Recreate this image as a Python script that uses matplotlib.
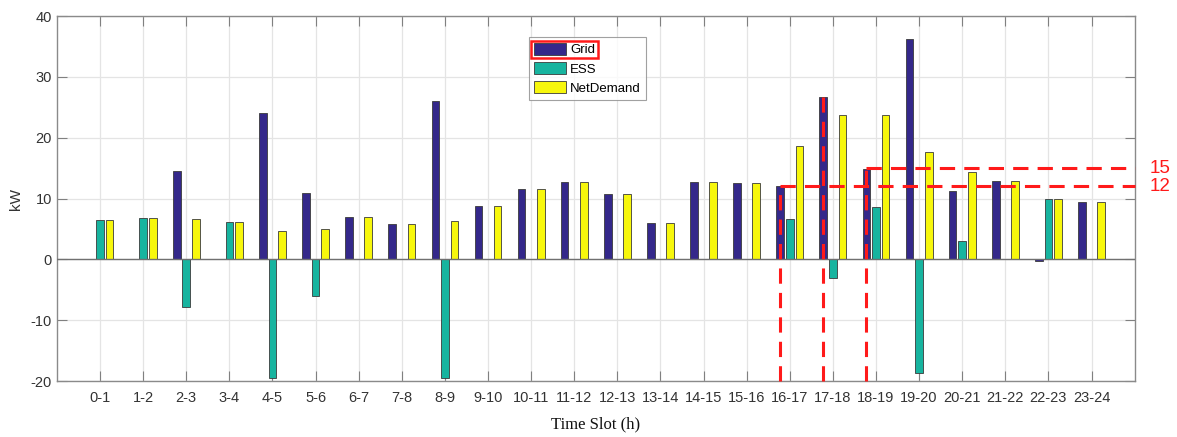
import matplotlib.pyplot as plt
import numpy as np
from matplotlib.patches import Rectangle

# hourly power balance (kW)
slots = ['%d-%d' % (h, h + 1) for h in range(24)]
grid = [0, 0, 14.5, 0, 24.1, 11.0, 6.9, 5.9, 26.0, 8.8, 11.5, 12.7,
        10.7, 6.0, 12.8, 12.5, 12.1, 26.7, 14.9, 36.3, 11.3, 12.9, -0.2, 9.5]
ess = [6.5, 6.8, -7.9, 6.2, -19.5, -6.0, 0, 0, -19.5, 0, 0, 0,
       0, 0, 0, 0, 6.6, -3.0, 8.7, -18.7, 3.0, 0, 10.0, 0]
net_demand = [6.5, 6.8, 6.6, 6.2, 4.6, 5.0, 6.9, 5.9, 6.4, 8.8, 11.5, 12.7,
              10.7, 6.0, 12.8, 12.5, 18.6, 23.7, 23.8, 17.6, 14.4, 12.9, 9.9, 9.5]

# marked grid levels and the slots they start from
levels = [12, 15]
level_slots = [16, 18]
peak_slot = 17

def main():
    plt.rcParams['font.family'] = ['Liberation Sans', 'DejaVu Sans']
    plt.rcParams['axes.unicode_minus'] = False
    fig = plt.figure(figsize=(11.77, 4.37), dpi=100)
    ax = fig.add_axes([0.0484, 0.128, 0.9156, 0.835])

    x = np.arange(1, len(slots) + 1)
    step = 2.0 / 9.0
    width = step * 0.8
    colors = ['#34288a', '#17b49f', '#f7f70c']
    series = [('Grid', grid), ('ESS', ess), ('NetDemand', net_demand)]
    for i, (name, vals) in enumerate(series):
        ax.bar(x + (i - 1) * step, vals, width, color=colors[i],
               edgecolor='#3a3a3a', linewidth=0.6, label=name, zorder=3)

    ax.axhline(0, color='#707070', lw=1.0, zorder=4)

    ax.set_xlim(0, 25)
    ax.set_ylim(-20, 40)
    ax.set_xticks(x)
    ax.set_xticklabels(slots)
    ax.set_yticks(np.arange(-20, 41, 10))
    ax.grid(True, color='#e4e4e4', lw=0.9, zorder=0)
    ax.tick_params(direction='in', length=7, width=0.8, color='#808080',
                   labelcolor='#333333', labelsize=10.5, top=True, right=True)
    ax.tick_params(axis='x', pad=7)
    for s in ax.spines.values():
        s.set_color('#8a8a8a')
        s.set_linewidth(1.0)
    ax.set_ylabel('kW', fontsize=11, color='#333333', labelpad=6)
    ax.set_xlabel('Time Slot (h)', fontsize=12, family='Liberation Serif',
                  color='#111111', labelpad=8)

    # dashed guide lines
    red = dict(color='#ff1a1a', lw=2.2, ls=(0, (5, 3)), zorder=5, clip_on=False)
    xs = [s + 1 - step for s in level_slots]
    for xv, lv in zip(xs, levels):
        ax.plot([xv, 25], [lv, lv], **red)
        ax.plot([xv, xv], [-20, lv], **red)
        ax.text(25.35, lv, str(lv), color='#ff1a1a', fontsize=13.5,
                va='center', ha='left')
    xp = peak_slot + 1 - step
    ax.plot([xp, xp], [-20, grid[peak_slot]], **red)

    leg = ax.legend(loc='upper left', bbox_to_anchor=(0.438, 0.942),
                    fontsize=9.5, frameon=True, fancybox=False,
                    edgecolor='#8a8a8a', handlelength=2.4, handleheight=1.1,
                    handletextpad=0.3, labelspacing=0.4, borderpad=0.4,
                    borderaxespad=0)
    leg.get_frame().set_linewidth(0.8)

    # box around the Grid legend entry
    fig.canvas.draw()
    r = fig.canvas.get_renderer()
    hb = leg.legend_handles[0].get_window_extent(r)
    tb = leg.get_texts()[0].get_window_extent(r)
    x0, y0 = hb.x0 - 3, min(hb.y0, tb.y0) - 2
    x1, y1 = tb.x1 + 3, max(hb.y1, tb.y1) + 2
    fw, fh = fig.bbox.width, fig.bbox.height
    fig.add_artist(Rectangle((x0 / fw, y0 / fh), (x1 - x0) / fw, (y1 - y0) / fh,
                             transform=fig.transFigure, fill=False,
                             edgecolor='#ff1a1a', lw=1.8, zorder=10))

    fig.savefig('out.png', dpi=100)

if __name__ == '__main__':
    main()
